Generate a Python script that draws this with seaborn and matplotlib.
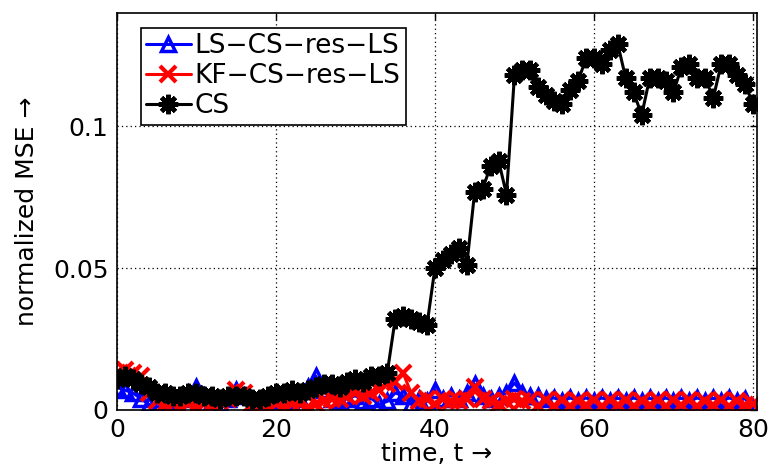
import numpy as np
import pandas as pd
import matplotlib
matplotlib.use("Agg")
import matplotlib.pyplot as plt
import seaborn as sns

# time index
t = list(range(81))

ls_cs_res_ls = [
    0.008, 0.007, 0.006, 0.004, 0.002, 0.001, 0.002, 0.003, 0.004, 0.006,
    0.008, 0.005, 0.003, 0.002, 0.004, 0.007, 0.005, 0.002, 0.001, 0.003,
    0.004, 0.003, 0.002, 0.004, 0.008, 0.012, 0.007, 0.004, 0.003, 0.004,
    0.005, 0.003, 0.004, 0.002, 0.003, 0.006, 0.005, 0.002, 0.004, 0.003,
    0.007, 0.004, 0.005, 0.004, 0.006, 0.009, 0.005, 0.004, 0.005, 0.006,
    0.0095, 0.006, 0.005, 0.005, 0.004, 0.0042, 0.0032, 0.0042, 0.0033, 0.0042,
    0.0032, 0.0042, 0.0033, 0.0041, 0.0032, 0.0042, 0.0033, 0.0041, 0.0032, 0.0042,
    0.0033, 0.0041, 0.0032, 0.0042, 0.0033, 0.0041, 0.0032, 0.0042, 0.0033, 0.0040,
    0.0005,
]

kf_cs_res_ls = [
    0.013, 0.014, 0.013, 0.012, 0.006, 0.003, 0.002, 0.002, 0.001, 0.002,
    0.001, 0.002, 0.002, 0.003, 0.004, 0.007, 0.006, 0.002, 0.002, 0.001,
    0.002, 0.001, 0.002, 0.002, 0.001, 0.002, 0.003, 0.004, 0.004, 0.005,
    0.006, 0.005, 0.006, 0.007, 0.009, 0.010, 0.013, 0.006, 0.003, 0.004,
    0.002, 0.004, 0.003, 0.003, 0.004, 0.008, 0.004, 0.003, 0.002, 0.003,
    0.004, 0.003, 0.0035, 0.0015, 0.0035, 0.0015, 0.0035, 0.0015, 0.0033, 0.0017,
    0.0035, 0.0015, 0.0034, 0.0016, 0.0035, 0.0015, 0.0033, 0.0016, 0.0034, 0.0015,
    0.0035, 0.0016, 0.0034, 0.0015, 0.0033, 0.0016, 0.0034, 0.0015, 0.0033, 0.0016,
    0.0020,
]

cs = [
    0.011, 0.012, 0.011, 0.009, 0.008, 0.006, 0.006, 0.005, 0.005, 0.006,
    0.006, 0.005, 0.005, 0.004, 0.005, 0.005, 0.005, 0.004, 0.004, 0.005,
    0.006, 0.006, 0.007, 0.006, 0.007, 0.008, 0.009, 0.009, 0.008, 0.010,
    0.011, 0.010, 0.012, 0.012, 0.013, 0.032, 0.033, 0.032, 0.031, 0.030,
    0.050, 0.053, 0.055, 0.057, 0.051, 0.077, 0.078, 0.086, 0.088, 0.076,
    0.118, 0.120, 0.120, 0.114, 0.111, 0.109, 0.108, 0.113, 0.116, 0.124,
    0.124, 0.122, 0.127, 0.129, 0.117, 0.112, 0.104, 0.117, 0.117, 0.116,
    0.112, 0.121, 0.122, 0.117, 0.117, 0.110, 0.122, 0.122, 0.118, 0.115,
    0.108,
]

labels = ["LS\u2212CS\u2212res\u2212LS", "KF\u2212CS\u2212res\u2212LS", "CS"]
x_ticks = [0, 20, 40, 60, 80]
y_ticks = [0, 0.05, 0.1]

sns.set_style("white")
plt.rcParams["font.family"] = ["DejaVu Sans"]
plt.rcParams["text.color"] = "black"
plt.rcParams["axes.labelcolor"] = "black"

fig = plt.figure(figsize=(7.74, 4.69), dpi=100)
ax = fig.add_axes([0.151, 0.126, 0.827, 0.846])

styles = [
    dict(color="blue", marker="^", markersize=10, markerfacecolor="none",
         markeredgecolor="blue", markeredgewidth=2.5),
    dict(color="red", marker="x", markersize=12, markeredgecolor="red",
         markeredgewidth=3),
    dict(color="black", marker=(8, 2, 0), markersize=14, markeredgecolor="black",
         markeredgewidth=3.2),
]
for series, lab, st in zip([ls_cs_res_ls, kf_cs_res_ls, cs], labels, styles):
    sns.lineplot(x=t, y=series, ax=ax, label=lab, linewidth=2.2, **st)

ax.set_xlim(0, 80.5)
ax.set_ylim(0, 0.14)
ax.set_xticks(x_ticks)
ax.set_yticks(y_ticks)
ax.set_yticklabels(["0", "0.05", "0.1"])
ax.tick_params(direction="in", length=5, width=1, top=True, right=True,
               labelsize=18, colors="black", pad=6)
for s in ax.spines.values():
    s.set_color("black")
    s.set_linewidth(1.2)
ax.grid(True, color="black", linestyle=(0, (1, 2.5)), linewidth=0.9)

ax.set_xlabel("time, t \u2192", fontsize=18, labelpad=0)
ax.set_ylabel("normalized MSE \u2192", fontsize=18, labelpad=10)

leg = ax.legend(loc="upper left", bbox_to_anchor=(0.037, 0.962), borderaxespad=0,
                fontsize=19, handlelength=1.7, handletextpad=0.15, labelspacing=0.15,
                borderpad=0.2, fancybox=False, framealpha=1, edgecolor="black")
leg.get_frame().set_linewidth(1.2)

fig.savefig("out.png", dpi=100)
